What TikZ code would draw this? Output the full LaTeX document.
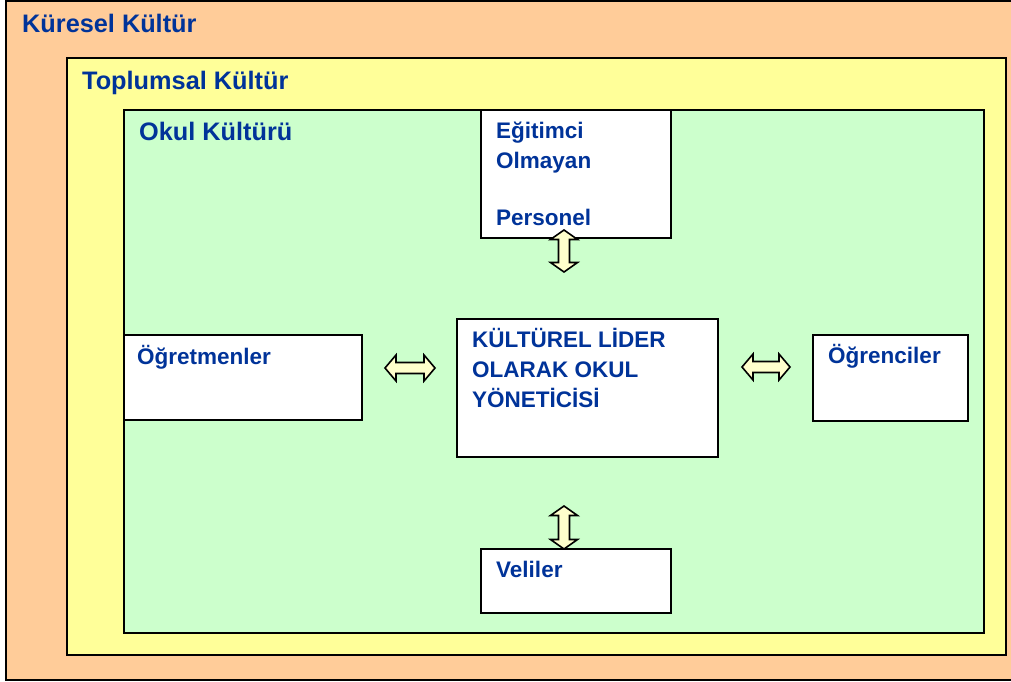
\documentclass[tikz,border=0pt]{standalone}
\usepackage{fontspec}
\setmainfont{Liberation Sans}
\definecolor{txtblue}{HTML}{003399}
\definecolor{orangebg}{HTML}{FFCC99}
\definecolor{yellowbg}{HTML}{FFFF99}
\definecolor{greenbg}{HTML}{CCFFCC}
\definecolor{arrowfill}{HTML}{FFFFCC}
\newcommand\myvdarrow[4]{% name, x, ytop, ybottom
  \coordinate (#1) at (#2,{(#3+#4)/2});
  \draw[blockarrow] (#2,#3) -- ({#2+13.5},{#3+9.5}) -- ({#2+5.5},{#3+9.5}) -- ({#2+5.5},{#4-9.5}) -- ({#2+13.5},{#4-9.5}) -- (#2,#4) -- ({#2-13.5},{#4-9.5}) -- ({#2-5.5},{#4-9.5}) -- ({#2-5.5},{#3+9.5}) -- ({#2-13.5},{#3+9.5}) -- cycle;}
\newcommand\myhdarrow[4]{% name, y, xleft, xright
  \coordinate (#1) at ({(#3+#4)/2},#2);
  \draw[blockarrow] (#3,#2) -- ({#3+11},{#2-13}) -- ({#3+11},{#2-5.5}) -- ({#4-11},{#2-5.5}) -- ({#4-11},{#2-13}) -- (#4,#2) -- ({#4-11},{#2+13}) -- ({#4-11},{#2+5.5}) -- ({#3+11},{#2+5.5}) -- ({#3+11},{#2+13}) -- cycle;}
\begin{document}
\begin{tikzpicture}[x=1pt,y=-1pt,
  frame/.style={draw=black, line width=2pt},
  box/.style={draw=black, line width=2pt, fill=white, anchor=north west, inner sep=0pt, outer sep=0pt},
  title/.style={text=txtblue, font=\fontsize{25.3}{30}\selectfont\bfseries, inner sep=0pt, anchor=base west},
  txt/.style={text=txtblue, font=\fontsize{22.5}{30}\selectfont\bfseries, inner sep=0pt, anchor=north west, align=left},
  blockarrow/.style={draw=black, line width=1.6pt, fill=arrowfill, line join=miter}]
\useasboundingbox (0,0) rectangle (1011,682);
\clip (0,0) rectangle (1011,682);
% nested culture frames
\filldraw[frame, fill=orangebg] (6,1.5) rectangle (1030,679.5);
\filldraw[frame, fill=yellowbg] (67,58) rectangle (1006,655);
\filldraw[frame, fill=greenbg] (124,110) rectangle (984,633);
\node[title] (kuresel) at (22,33) {Küresel Kültür};
\node[title] (toplumsal) at (82,89.5) {Toplumsal Kültür};
\node[title] (okul) at (139,140) {Okul Kültürü};
% boxes
\node[box, minimum width=190pt, minimum height=128pt] (pers) at (481,110) {};
\node[box, minimum width=261pt, minimum height=138pt] (lider) at (457,319) {};
\node[box, minimum width=238pt, minimum height=85pt] (ogrt) at (124,335) {};
\node[box, minimum width=155pt, minimum height=86pt] (ogrc) at (813,335) {};
\node[box, minimum width=190pt, minimum height=64pt] (veli) at (481,549) {};
% texts
\node[txt] (perstxt) at (496,114) {\rule{0pt}{24pt}Eğitimci\\Olmayan\\[27pt]Personel};
\node[txt] (lidertxt) at (472,323) {\rule{0pt}{24pt}KÜLTÜREL LİDER\\OLARAK OKUL\\YÖNETİCİSİ};
\node[txt] (ogrttxt) at (137,340) {\rule{0pt}{24pt}Öğretmenler};
\node[txt] (ogrctxt) at (828,339) {\rule{0pt}{24pt}Öğrenciler};
\node[txt] (velitxt) at (496,553) {\rule{0pt}{24pt}Veliler};
% double block arrows
\myvdarrow{aup}{564}{230}{272}
\myvdarrow{adown}{564}{506}{549}
\myhdarrow{aleft}{368}{385}{435}
\myhdarrow{aright}{367}{742}{790}
\end{tikzpicture}
\end{document}
